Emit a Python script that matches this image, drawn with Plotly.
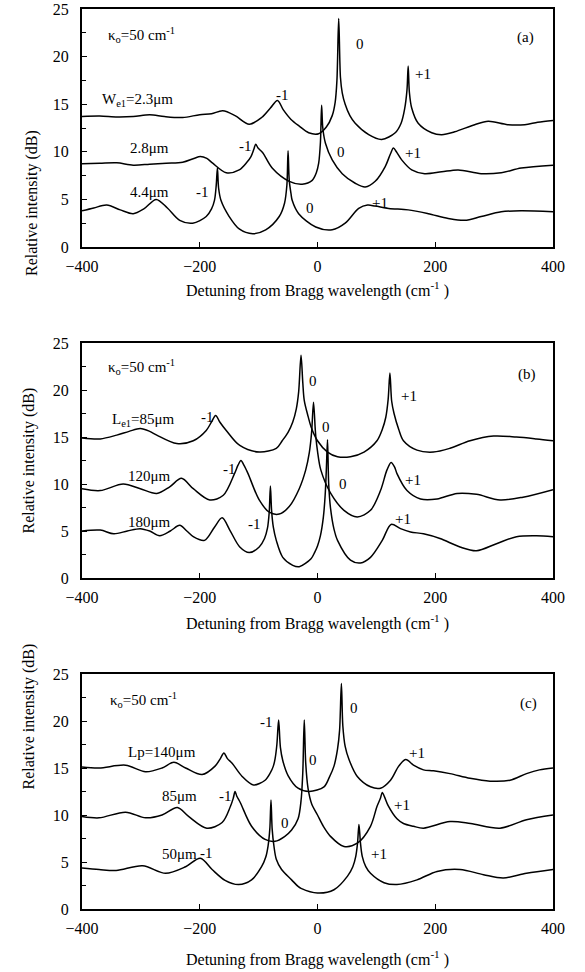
import plotly.graph_objects as go

# ---------------- data ----------------
# Panel (a): W_e1 = 2.3, 2.8, 4.4 um
A1_X = [-400, -370, -340, -313, -285, -260, -229, -200, -180, -161, -140, -116, -95, -80, -68, -58, -45, -31, -15, 2, 15, 25, 30, 33, 36, 39, 42, 47, 55, 64, 87, 109, 132, 142, 148, 152, 154, 156, 160, 171, 194, 211, 233, 267, 290, 323, 352, 374, 400]
A1_Y = [13.7, 13.75, 13.65, 13.7, 13.9, 13.7, 13.6, 13.9, 14.0, 14.3, 13.8, 12.9, 13.6, 14.6, 15.4, 14.4, 13.4, 12.7, 12.0, 11.9, 12.6, 13.8, 15.2, 17.5, 24.0, 17.8, 16.2, 15.0, 13.8, 13.0, 11.8, 11.3, 12.0, 13.0, 14.5, 16.5, 19.0, 16.3, 14.6, 13.0, 12.0, 11.8, 12.1, 12.85, 13.2, 12.85, 12.85, 13.1, 13.3]

A2_X = [-400, -370, -341, -313, -285, -257, -229, -210, -199, -188, -178, -155, -133, -120, -113, -108, -105, -101, -93, -77, -48, -26, -9, -2, 2, 5, 7, 9, 13.5, 25, 42, 64, 81, 98, 115, 124, 129, 134, 143, 160, 182, 211, 239, 278, 312, 346, 400]
A2_Y = [8.75, 8.8, 8.85, 8.6, 8.7, 8.8, 8.9, 9.3, 9.5, 9.3, 8.8, 7.8, 8.1, 8.9, 9.5, 10.3, 10.8, 10.4, 9.9, 8.3, 6.9, 6.6, 7.0, 7.8, 8.8, 11.0, 14.9, 12.5, 10.9, 9.15, 7.7, 6.7, 6.3, 6.9, 8.45, 9.8, 10.4, 10.0, 9.15, 8.1, 7.7, 7.9, 8.1, 7.7, 7.8, 8.3, 8.6]

A3_X = [-400, -380, -358, -335, -313, -295, -274, -255, -234, -212, -189, -180, -175, -172, -170, -168, -164, -150, -133, -110, -88, -65, -56, -52, -50, -48, -45, -43, -32, -3, 25, 47, 70, 85, 98, 121, 154, 188, 222, 250, 278, 312, 346, 400]
A3_Y = [3.8, 4.1, 4.4, 3.9, 3.5, 4.0, 5.0, 4.1, 2.8, 2.5, 3.2, 4.0, 4.9, 6.5, 8.3, 6.2, 4.9, 3.2, 1.9, 1.4, 1.8, 3.2, 4.6, 6.5, 10.1, 7.0, 5.6, 4.9, 3.5, 2.1, 1.8, 2.5, 4.05, 4.4, 4.3, 4.05, 3.9, 3.5, 3.0, 2.8, 3.2, 3.7, 3.8, 3.7]

# Panel (b): L_e1 = 85, 120, 180 um
B1_X = [-400, -369, -341, -320, -301, -285, -273, -239, -211, -189, -180, -173, -166, -155, -132, -99, -70, -60, -50, -42, -36, -32, -28, -25, -22.5, -16, -11, 0, 17, 34, 56, 79, 101, 110, 116, 120, 123, 126, 130, 138, 146, 169, 197, 225, 259, 299, 338, 372, 400]
B1_Y = [14.9, 14.8, 15.2, 15.6, 15.9, 15.6, 15.2, 14.3, 14.6, 15.7, 16.6, 17.3, 16.6, 15.7, 14.1, 13.4, 13.8, 14.6, 15.5, 16.6, 18.0, 19.8, 23.7, 20.8, 18.9, 17.2, 16.1, 14.6, 13.4, 12.9, 12.9, 13.4, 14.6, 15.8, 17.1, 19.0, 21.8, 18.8, 17.5, 15.8, 14.6, 13.6, 13.4, 13.8, 14.6, 15.1, 15.0, 14.8, 14.6]

B2_X = [-400, -369, -330, -301, -273, -251, -231, -211, -183, -160, -141, -135, -130, -125, -118, -99, -82, -65, -48, -31, -20, -14, -10, -6.8, -4, -2.8, 0, 5.6, 22.5, 45, 67.6, 90, 107, 118, 125, 131, 135, 152, 175, 203, 237, 270, 310, 349, 400]
B2_Y = [9.5, 9.3, 10.0, 9.5, 9.0, 9.7, 10.6, 9.5, 8.3, 8.8, 11.1, 12.0, 12.5, 12.0, 11.1, 8.3, 7.0, 6.8, 7.6, 9.5, 11.5, 13.3, 15.5, 18.7, 16.0, 15.0, 13.5, 11.5, 9.0, 7.2, 6.5, 7.2, 9.3, 11.5, 12.3, 11.8, 11.1, 9.3, 8.4, 8.4, 9.0, 8.9, 8.3, 8.6, 9.4]

B3_X = [-400, -369, -346, -323, -301, -285, -268, -250, -234, -222, -211, -192, -175, -162, -149, -132, -116, -99, -90, -85, -82, -80, -78, -75, -70, -59, -42, -31, -11, -5, 0, 5, 10, 13, 15, 17, 19, 22, 28, 34, 56, 73, 90, 110, 125, 141, 158, 180, 208, 242, 270, 304, 338, 372, 400]
B3_Y = [5.0, 5.1, 4.7, 5.0, 5.25, 5.0, 4.5, 5.0, 5.6, 5.0, 4.4, 4.0, 5.4, 6.4, 5.1, 3.3, 2.7, 3.3, 4.2, 5.3, 7.0, 9.8, 7.2, 5.4, 4.0, 2.2, 1.35, 1.2, 2.05, 2.7, 3.4, 4.5, 6.5, 8.8, 11.5, 14.7, 10.0, 7.5, 5.2, 4.0, 1.9, 1.6, 2.2, 4.0, 5.7, 5.25, 4.9, 4.7, 4.2, 3.3, 2.9, 3.65, 4.4, 4.5, 4.4]

# Panel (c): L_p = 140, 85, 50 um
C1_X = [-400, -371, -326, -292, -264, -244, -224, -196, -174, -165, -159, -153, -145, -128, -109, -89, -80, -75, -72, -69, -66, -63, -59, -50, -33, -14, 11, 20, 28, 34, 37.5, 40.6, 43, 47, 53.5, 67.6, 90, 107, 124, 138, 150, 163, 180, 197, 225, 259, 293, 327, 355, 377, 400]
C1_Y = [15.1, 15.0, 15.3, 14.6, 15.0, 15.6, 15.0, 14.3, 15.2, 16.0, 16.6, 16.0, 15.5, 14.1, 13.2, 13.7, 14.5, 15.2, 16.0, 17.5, 20.1, 17.2, 15.8, 14.2, 12.85, 12.5, 13.0, 14.0, 15.2, 17.0, 19.0, 24.0, 19.5, 17.3, 15.9, 14.1, 13.0, 12.85, 13.7, 15.2, 15.9, 15.3, 14.8, 14.7, 14.4, 13.9, 13.6, 13.7, 14.4, 14.8, 15.0]

C2_X = [-400, -371, -326, -292, -264, -238, -219, -188, -162, -148, -143, -140, -137, -131, -112, -89, -72, -56, -44, -33, -28, -25, -22.5, -20, -16, -10, 0, 10, 22.5, 45, 67.6, 90, 101, 107, 110, 114, 120, 135, 146, 163, 180, 225, 260, 310, 355, 400]
C2_Y = [9.85, 9.7, 10.3, 9.7, 10.0, 10.8, 9.85, 8.6, 9.2, 10.9, 11.8, 12.5, 12.0, 11.3, 8.8, 7.4, 7.2, 7.7, 8.4, 9.6, 11.5, 14.5, 20.1, 15.5, 12.8, 11.2, 10.0, 8.8, 7.7, 6.65, 7.0, 8.8, 10.9, 11.8, 12.4, 11.9, 11.0, 9.6, 9.1, 8.8, 8.6, 9.3, 9.1, 8.6, 9.5, 10.0]

C3_X = [-400, -371, -342, -297, -258, -224, -199, -179, -157, -134, -112, -95, -88, -84, -81, -79, -77, -74, -70, -61, -44, -33, -28, 0, 28, 51, 60, 65, 68, 70.4, 73, 76, 82, 90, 113, 135, 169, 203, 242, 282, 315.5, 355, 400]
C3_Y = [4.35, 4.2, 4.1, 4.6, 3.8, 4.5, 5.4, 4.2, 3.05, 2.6, 3.1, 4.5, 5.5, 6.7, 8.5, 11.6, 8.5, 6.7, 5.3, 4.2, 3.1, 2.4, 2.2, 1.7, 2.05, 3.5, 4.5, 5.6, 7.0, 9.0, 7.0, 5.6, 4.5, 3.8, 2.8, 2.6, 3.1, 4.0, 4.2, 3.65, 3.3, 3.8, 4.2]

X_TICKS = [-400, -200, 0, 200, 400]
Y_TICKS = [0, 5, 10, 15, 20, 25]

# Text labels: (text, x, y)
A_LABELS = [("κ<sub>o</sub>=50 cm<sup>-1</sup>", -299, 22.3), ("(a)", 354, 22.0),
            ("W<sub>e1</sub>=2.3μm", -305, 15.4), ("2.8μm", -285, 10.4), ("4.4μm", -285, 5.8),
            ("-1", -60, 16.0), ("0", 73, 21.3), ("+1", 180, 18.2),
            ("-1", -122, 10.6), ("0", 40, 10.0), ("+1", 163, 9.9),
            ("-1", -195, 5.8), ("0", -12, 4.05), ("+1", 106, 4.6)]
B_LABELS = [("κ<sub>o</sub>=50 cm<sup>-1</sup>", -299, 22.4), ("(b)", 355, 21.6),
            ("L<sub>e1</sub>=85μm", -296, 16.8), ("120μm", -285, 10.9), ("180μm", -285, 6.0),
            ("-1", -186, 17.1), ("0", -8, 21.0), ("+1", 155, 19.4),
            ("-1", -149, 11.6), ("0", 14, 16.1), ("+1", 163, 10.4),
            ("-1", -107, 5.7), ("0", 44, 10.0), ("+1", 146, 6.3)]
C_LABELS = [("κ<sub>o</sub>=50 cm<sup>-1</sup>", -295, 22.2), ("(c)", 358, 21.9),
            ("Lp=140μm", -264, 16.7), ("85μm", -235, 12.0), ("50μm", -235, 5.9),
            ("-1", -86, 19.9), ("0", 62, 21.4), ("+1", 169, 16.6),
            ("-1", -157, 12.0), ("0", -8, 15.9), ("+1", 144, 11.1),
            ("-1", -188, 5.95), ("0", -56, 9.1), ("+1", 104, 5.8)]

X_TITLE = "Detuning from Bragg wavelength (cm<sup>-1</sup> )"
Y_TITLE = "Relative intensity (dB)"

# ---------------- figure ----------------
W, H = 585, 972
FONT = "Times New Roman, Liberation Serif, DejaVu Serif, serif"
X_DOM = [82 / W, 553 / W]
PANELS = [  # (top px, bottom px)
    (9, 247),
    (343, 578),
    (674, 909),
]
XTITLE_PX = [290, 622, 958]
YTITLE_X = [32, 28, 28]

fig = go.Figure()
series = [[(A1_X, A1_Y), (A2_X, A2_Y), (A3_X, A3_Y)],
          [(B1_X, B1_Y), (B2_X, B2_Y), (B3_X, B3_Y)],
          [(C1_X, C1_Y), (C2_X, C2_Y), (C3_X, C3_Y)]]
labels = [A_LABELS, B_LABELS, C_LABELS]

annotations = []
for i, (top, bot) in enumerate(PANELS):
    sfx = "" if i == 0 else str(i + 1)
    xa, ya = "x" + sfx, "y" + sfx
    for xs, ys in series[i]:
        fig.add_trace(go.Scatter(x=xs, y=ys, mode="lines", xaxis=xa, yaxis=ya,
                                 line=dict(color="black", width=1.5, shape="spline",
                                           smoothing=0.9),
                                 showlegend=False, hoverinfo="skip"))
    axcommon = dict(showline=True, linewidth=2, linecolor="black", mirror=True,
                    ticks="inside", ticklen=5, tickwidth=1, tickcolor="black",
                    showgrid=False, zeroline=False, automargin=False,
                    tickfont=dict(family=FONT, size=16, color="black"))
    fig.update_layout(**{
        "xaxis" + sfx: dict(domain=X_DOM, range=[-400, 400], tickvals=X_TICKS,
                            anchor=ya, ticklabelstandoff=4, **axcommon),
        "yaxis" + sfx: dict(domain=[1 - bot / H, 1 - top / H], range=[0, 25],
                            tickvals=Y_TICKS, anchor=xa, ticklabelstandoff=8,
                            minor=dict(dtick=2.5, ticks="inside", ticklen=4,
                                       tickcolor="black"),
                            **axcommon),
    })
    for txt, lx, ly in labels[i]:
        annotations.append(dict(text=txt, x=lx, y=ly, xref=xa, yref=ya,
                                showarrow=False,
                                font=dict(family=FONT, size=15, color="black")))
    annotations.append(dict(text=X_TITLE, x=(X_DOM[0] + X_DOM[1]) / 2,
                            y=1 - XTITLE_PX[i] / H, xref="paper", yref="paper",
                            showarrow=False, yanchor="middle",
                            font=dict(family=FONT, size=16, color="black")))
    annotations.append(dict(text=Y_TITLE, x=YTITLE_X[i] / W,
                            y=1 - (top + bot) / 2 / H, xref="paper", yref="paper",
                            showarrow=False, textangle=-90, xanchor="center",
                            font=dict(family=FONT, size=16, color="black")))

fig.update_layout(width=W, height=H, autosize=False,
                  margin=dict(l=0, r=0, t=0, b=0),
                  font=dict(family=FONT, color="black"),
                  paper_bgcolor="white", plot_bgcolor="white",
                  annotations=annotations)

fig.write_html("out.html", config={"displayModeBar": False},
               post_script="document.body.style.margin='0';document.body.style.padding='0';")
